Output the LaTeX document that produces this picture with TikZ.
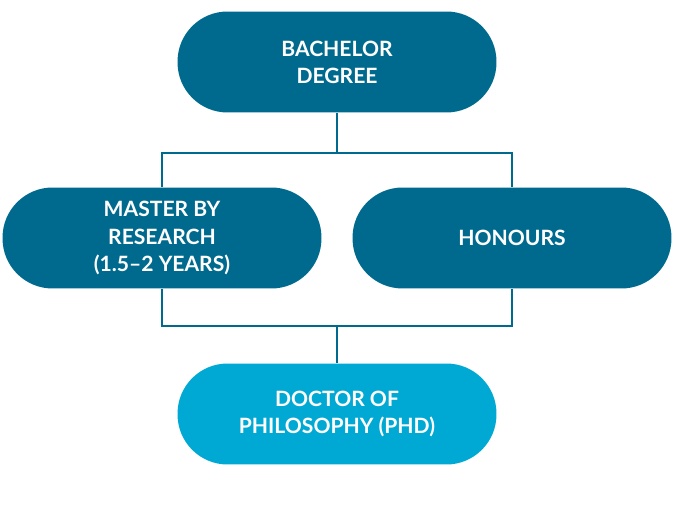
\documentclass[tikz,border=0pt]{standalone}
\usepackage{fontspec}
\setmainfont{Lato}
\definecolor{darkteal}{HTML}{006A8E}
\definecolor{lightteal}{HTML}{00A9D4}
\tikzset{
  stage/.style={fill=darkteal, text=white, rounded corners=1cm,
    minimum width=6.38cm, minimum height=2.02cm, align=center,
    font=\fontsize{12}{15.4}\selectfont\bfseries},
  link/.style={draw=darkteal, line width=0.8pt}
}
\begin{document}
\begin{tikzpicture}[x=0.02cm,y=-0.02cm]
    \useasboundingbox (0,0) rectangle (675,523);
    % degrees
    \node [stage] (bachelor) at (337,62)  {BACHELOR\\DEGREE};
    \node [stage] (master)   at (162,238) {MASTER BY\\RESEARCH\\(1.5–2 YEARS)};
    \node [stage] (honours)  at (512,238) {HONOURS};
    \node [stage, fill=lightteal] (phd) at (337,414) {DOCTOR OF\\PHILOSOPHY (PHD)};

    % junctions
    \coordinate (top)    at (337,153);
    \coordinate (bottom) at (337,326);

    % connectors
    \draw [link] (bachelor.south) -- (top)
          (master.north) |- (top) -| (honours.north)
          (master.south) |- (bottom) -| (honours.south)
          (bottom) -- (phd.north);
\end{tikzpicture}
\end{document}
